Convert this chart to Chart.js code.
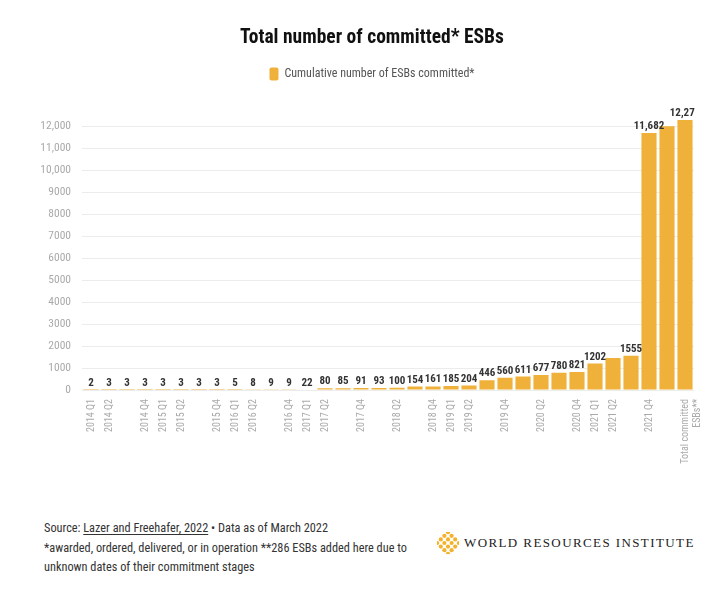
<!DOCTYPE html>
<html>
<head>
<meta charset="utf-8">
<script src="https://cdn.jsdelivr.net/npm/chart.js@4.4.1/dist/chart.umd.min.js"></script>
<style>
  body { margin: 0; background: #fff; }
  #wrap { position: relative; width: 725px; height: 602px; font-family: Roboto, "Open Sans", sans-serif; font-stretch: condensed; }
  #chartBox { position: absolute; left: 0; top: 0; width: 725px; height: 480px; }
  #notes { position: absolute; left: 44px; top: 519px; font-size: 12.3px; line-height: 19.5px; color: #333; }
  #notes u { text-underline-offset: 2px; }
  #logo { position: absolute; left: 437px; top: 532px; display: flex; align-items: center; }
  #logo span { font-family: "Liberation Serif", "DejaVu Serif", serif; font-stretch: normal; font-size: 13px; letter-spacing: 1.4px; color: #222; margin-left: 5px; }
</style>
</head>
<body>
<div id="wrap">
  <div id="chartBox"><canvas id="myChart"></canvas></div>
  <div id="notes">
    Source: <u>Lazer and Freehafer, 2022</u> • Data as of March 2022<br>
    *awarded, ordered, delivered, or in operation **286 ESBs added here due to<br>
    unknown dates of their commitment stages
  </div>
  <div id="logo"><svg id="wriIcon" width="22" height="22"></svg><span>WORLD RESOURCES INSTITUTE</span></div>
</div>
<script>
var FONT = 'Roboto, "Open Sans", sans-serif';

var quarters = ["2014 Q1","2014 Q2","2014 Q3","2014 Q4","2015 Q1","2015 Q2","2015 Q3","2015 Q4",
  "2016 Q1","2016 Q2","2016 Q3","2016 Q4","2017 Q1","2017 Q2","2017 Q3","2017 Q4",
  "2018 Q1","2018 Q2","2018 Q3","2018 Q4","2019 Q1","2019 Q2","2019 Q3","2019 Q4",
  "2020 Q1","2020 Q2","2020 Q3","2020 Q4","2021 Q1","2021 Q2","2021 Q3","2021 Q4",
  "2022 Q1","Total committed ESBs**"];
var tickLabels = ["2014 Q1","2014 Q2","","2014 Q4","2015 Q1","2015 Q2","","2015 Q4",
  "2016 Q1","2016 Q2","","2016 Q4","2017 Q1","2017 Q2","","2017 Q4",
  "","2018 Q2","","2018 Q4","2019 Q1","2019 Q2","","2019 Q4",
  "","2020 Q2","","2020 Q4","2021 Q1","2021 Q2","","2021 Q4",
  "",["Total committed","ESBs**"]];
var esbs = [2,3,3,3,3,3,3,3,5,8,9,9,22,80,85,91,93,100,154,161,185,204,446,560,611,677,780,821,1202,1450,1555,11682,11986,12272];
var noValueLabel = ["2021 Q2","2022 Q1"];
var yTicks = [0,1000,2000,3000,4000,5000,6000,7000,8000,9000,10000,11000,12000];

function fmt(v) {
  return v >= 10000 ? v.toLocaleString("en-US") : String(v);
}

var valueLabels = {
  id: "valueLabels",
  afterDatasetsDraw: function(chart) {
    var ctx = chart.ctx, area = chart.chartArea;
    var meta = chart.getDatasetMeta(0);
    ctx.save();
    ctx.beginPath();
    ctx.rect(0, 0, area.right + 1, chart.height);
    ctx.clip();
    ctx.font = "bold condensed 11px " + FONT;
    ctx.fillStyle = "#333";
    ctx.textAlign = "center";
    ctx.textBaseline = "alphabetic";
    meta.data.forEach(function(bar, i) {
      if (noValueLabel.indexOf(quarters[i]) >= 0) return;
      ctx.fillText(fmt(esbs[i]), bar.x, bar.y - 4);
    });
    ctx.restore();
  }
};

// extra room under the legend
var legendGap = {
  id: "legendGap",
  beforeInit: function(chart) {
    var fit = chart.legend.fit;
    chart.legend.fit = function() {
      fit.call(this);
      this.height += 29;
    };
  }
};

new Chart("myChart", {
  type: "bar",
  data: {
    labels: quarters,
    datasets: [{
      label: "Cumulative number of ESBs committed*",
      data: esbs,
      backgroundColor: "#f0b13b",
      borderRadius: 0,
      barPercentage: 0.84,
      categoryPercentage: 1
    }]
  },
  plugins: [valueLabels, legendGap],
  options: {
    responsive: true,
    maintainAspectRatio: false,
    animation: false,
    layout: { padding: { left: 19, right: 0, top: 0, bottom: 0 } },
    plugins: {
      title: {
        display: true,
        text: "Total number of committed* ESBs",
        color: "#111",
        font: { family: FONT, size: 19.5, weight: "bold condensed" },
        padding: { top: 26, bottom: 2 }
      },
      legend: {
        display: true,
        labels: {
          boxWidth: 9,
          boxHeight: 13,
          useBorderRadius: true,
          borderRadius: 2,
          color: "#555",
          font: { family: FONT, size: 12, weight: "condensed" },
          padding: 16
        }
      },
      tooltip: { enabled: false }
    },
    scales: {
      x: {
        grid: { display: false },
        border: { display: false },
        ticks: {
          autoSkip: false,
          minRotation: 90,
          maxRotation: 90,
          padding: 1,
          color: "#aaa",
          font: { family: FONT, size: 10, weight: "condensed" },
          callback: function(v, i) { return tickLabels[i]; }
        },
        afterFit: function(scale) { scale.height = 90; }
      },
      y: {
        min: 0,
        max: 12300,
        grid: { color: "#ececec", drawTicks: false },
        border: { display: false },
        afterBuildTicks: function(scale) {
          scale.ticks = yTicks.map(function(v) { return { value: v }; });
        },
        ticks: {
          padding: 11,
          color: "#aaa",
          font: { family: FONT, size: 11.5, weight: "condensed" },
          callback: function(v) { return fmt(v); }
        },
        afterFit: function(scale) { scale.width = 63; }
      },
      // empty right-hand spacer so the plot ends where the original does
      spacer: {
        type: "linear",
        position: "right",
        display: true,
        grid: { display: false },
        border: { display: false },
        ticks: { display: false },
        afterFit: function(scale) { scale.width = 31; }
      }
    }
  }
});

// WRI mark: small diamond lattice of dots
(function() {
  var svg = document.getElementById("wriIcon");
  var html = "";
  for (var i = 0; i < 4; i++) {
    for (var j = 0; j < 4; j++) {
      var u = (i - 1.5) * 3.6, w = (j - 1.5) * 3.6;
      var x = 11 + (u - w), y = 11 + (u + w);
      html += '<circle cx="' + x.toFixed(1) + '" cy="' + y.toFixed(1) + '" r="2.1" fill="#f3b229"/>';
    }
  }
  svg.innerHTML = html;
})();
</script>
</body>
</html>
